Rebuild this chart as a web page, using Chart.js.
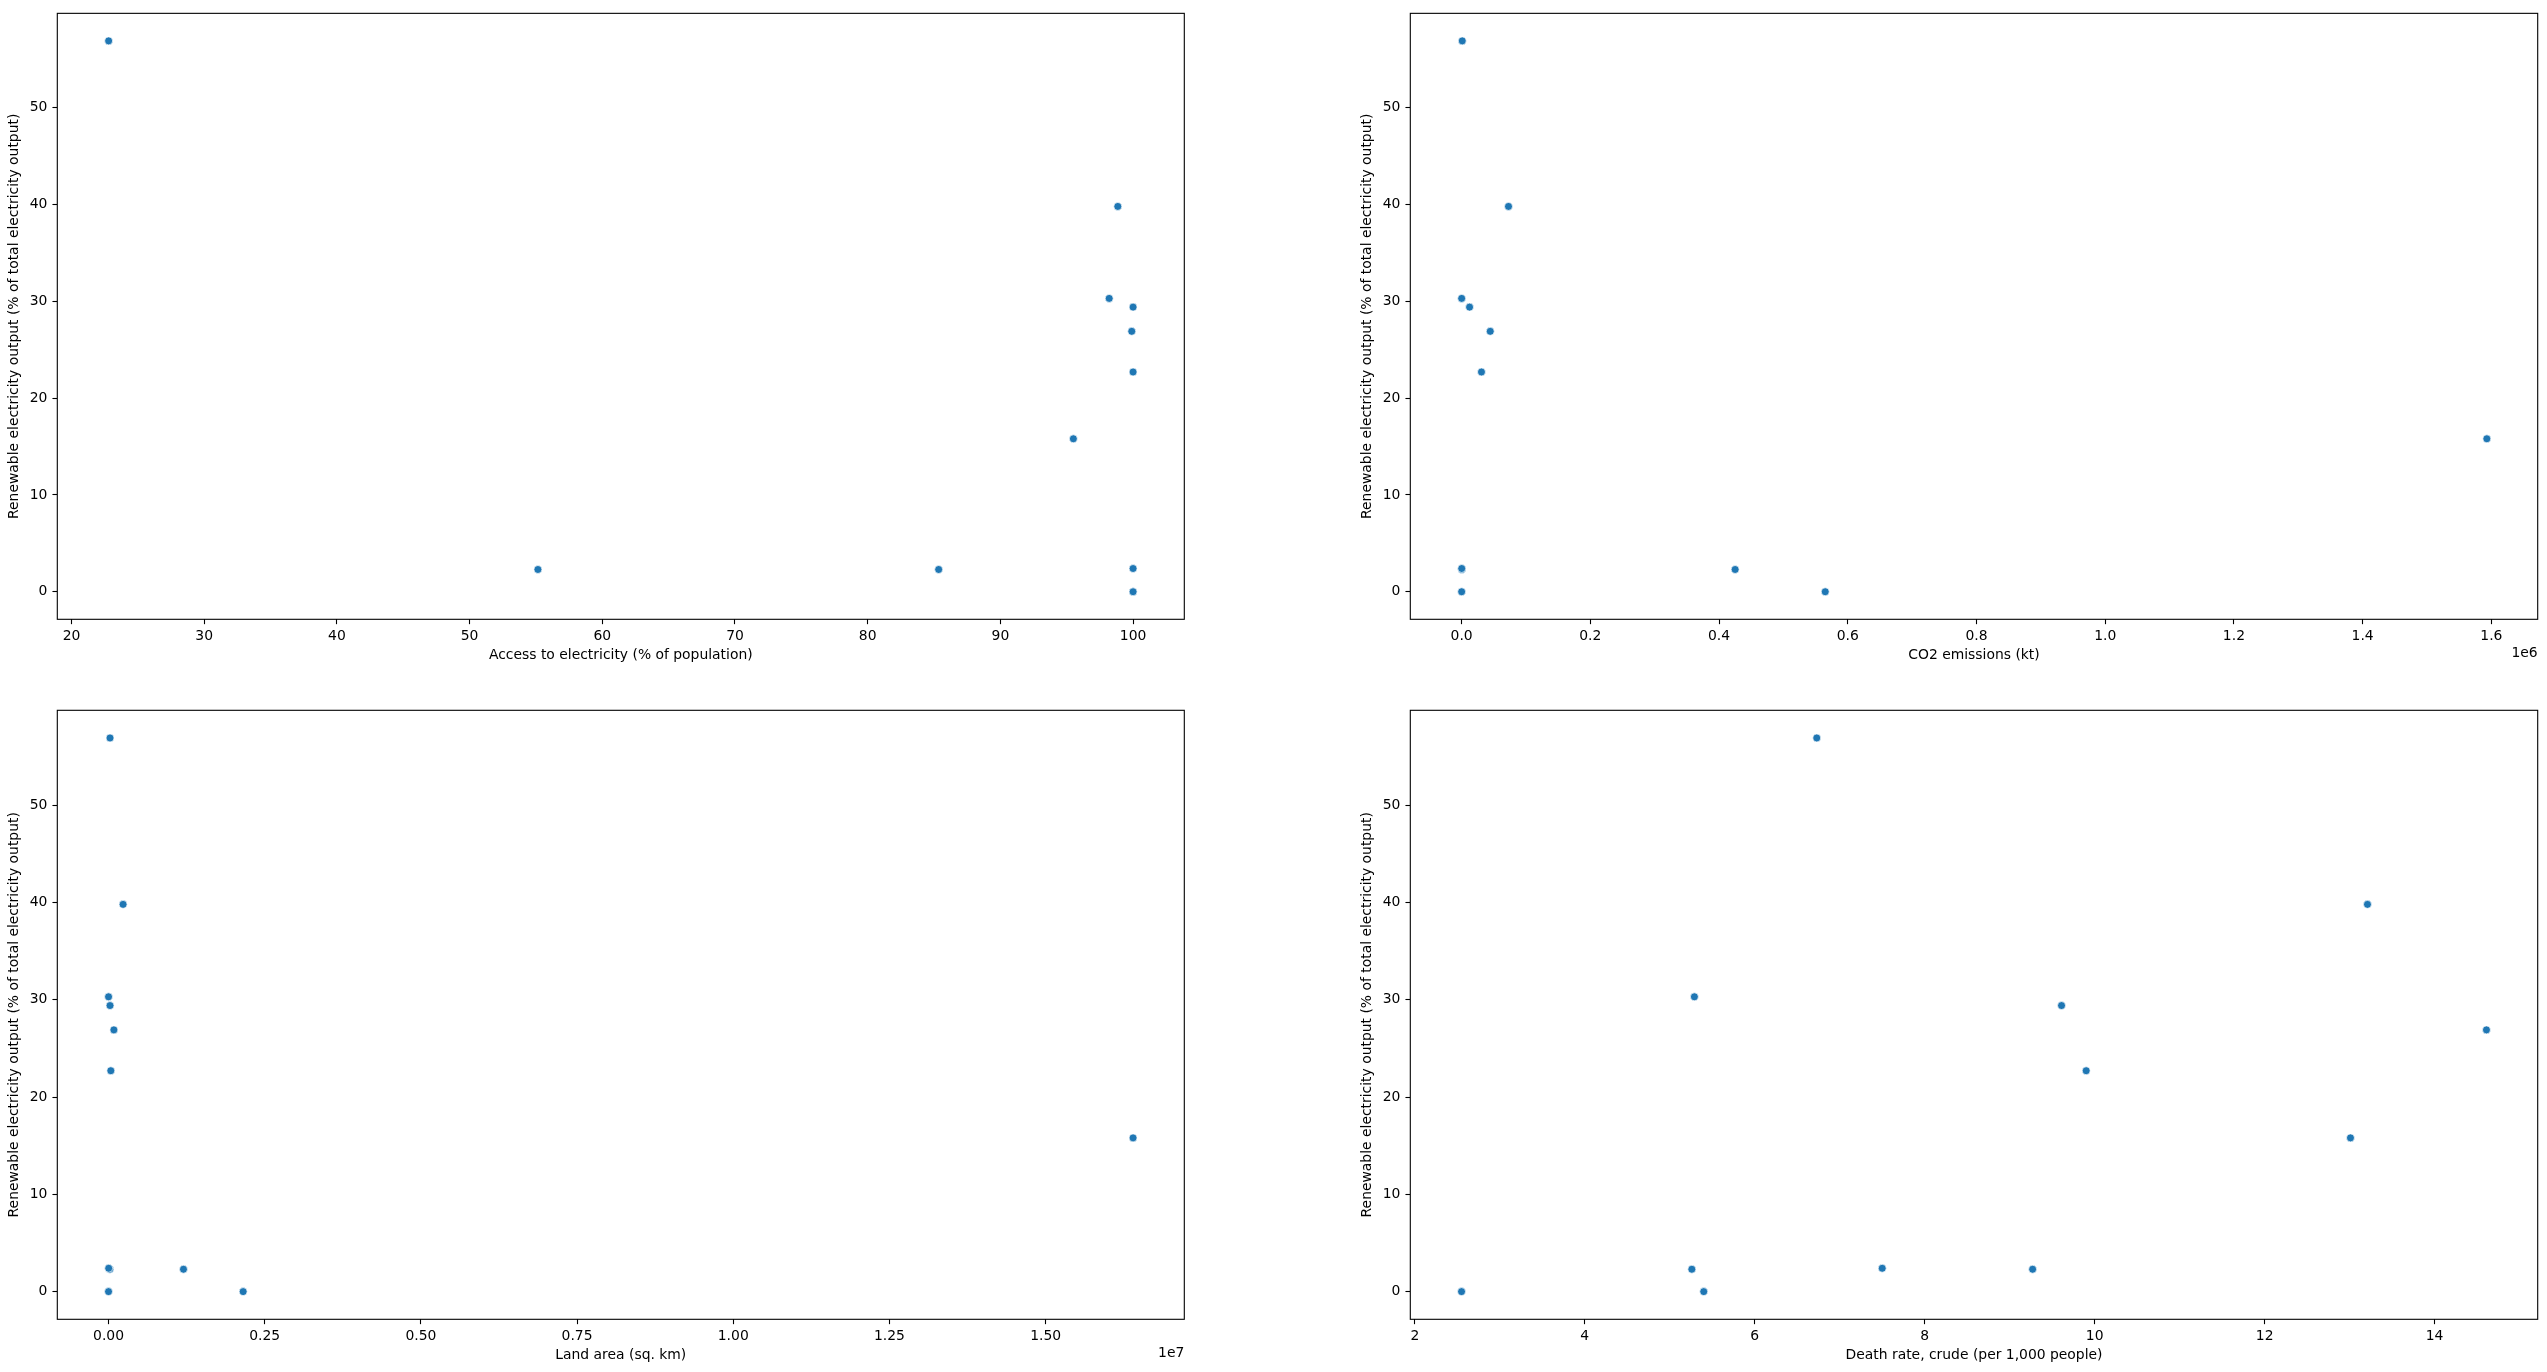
<!DOCTYPE html>
<html><head><meta charset="utf-8">
<script src="https://cdn.jsdelivr.net/npm/chart.js@4.4.1/dist/chart.umd.min.js"></script>
<style>
html,body{margin:0;padding:0;background:#fff;width:2547px;height:1372px;overflow:hidden}
canvas{position:absolute}
</style></head><body>
<canvas id="c1"></canvas><canvas id="c2"></canvas><canvas id="c3"></canvas><canvas id="c4"></canvas>
<script>
// ---- data ----
const renewable = [56.9, 39.8, 30.3, 29.4, 26.9, 22.7, 15.8, 2.3, 2.3, 2.4, 0.0, 0.0];
const accessElectricity = [22.8, 98.85, 98.2, 100, 99.9, 100, 95.5, 55.15, 85.35, 100, 100, 100];
const co2Emissions = [1000, 72900, 100, 12400, 44500, 30900, 1593000, 300, 425000, 200, 100, 565000];
const landArea = [24000, 233000, 500, 24000, 86000, 37000, 16400000, 20000, 1200000, 3000, 100, 2155000];
const deathRate = [6.73, 13.21, 5.29, 9.61, 14.61, 9.90, 13.01, 5.26, 9.27, 7.50, 2.55, 5.40];

const yTicks = [0, 10, 20, 30, 40, 50];
const yTickLabels = ['0', '10', '20', '30', '40', '50'];
const accessTicks = [20, 30, 40, 50, 60, 70, 80, 90, 100];
const accessTickLabels = ['20', '30', '40', '50', '60', '70', '80', '90', '100'];
const co2Ticks = [0, 200000, 400000, 600000, 800000, 1000000, 1200000, 1400000, 1600000];
const co2TickLabels = ['0.0', '0.2', '0.4', '0.6', '0.8', '1.0', '1.2', '1.4', '1.6'];
const landTicks = [0, 2500000, 5000000, 7500000, 10000000, 12500000, 15000000];
const landTickLabels = ['0.00', '0.25', '0.50', '0.75', '1.00', '1.25', '1.50'];
const deathTicks = [2, 4, 6, 8, 10, 12, 14];
const deathTickLabels = ['2', '4', '6', '8', '10', '12', '14'];

const yLabel = 'Renewable electricity output (% of total electricity output)';

// ---- styling ----
const FONT = 'DejaVu Sans';
const FS = 13.9;
const HALF_LH = FS * 1.2 / 2;
Chart.defaults.font.family = FONT;
Chart.defaults.font.size = FS;
Chart.defaults.color = '#000';

const framePlugin = {
  id: 'frame',
  afterDraw(chart, args, opts) {
    const {ctx, chartArea: a} = chart;
    ctx.save();
    ctx.strokeStyle = '#000';
    ctx.lineWidth = 1.1;
    ctx.strokeRect(a.left, a.top, a.right - a.left, a.bottom - a.top);
    if (opts.offsetText) {
      ctx.font = FS + 'px "' + FONT + '"';
      ctx.fillStyle = '#000';
      ctx.textAlign = 'right';
      ctx.textBaseline = 'middle';
      ctx.fillText(opts.offsetText, a.right, a.bottom + 34);
    }
    ctx.restore();
  }
};

function makeChart(id, box, axes, xs, xLabel, xTicks, xTickLabels, xRange, offsetText, xTitlePad, yTitlePad) {
  const cv = document.getElementById(id);
  cv.width = box.cw; cv.height = box.ch;
  cv.style.left = box.cx + 'px'; cv.style.top = box.cy + 'px';
  cv.style.width = box.cw + 'px'; cv.style.height = box.ch + 'px';
  const gridOpts = {display: true, drawOnChartArea: false, drawTicks: true, tickLength: 4.86, tickColor: '#000', tickWidth: 1.1};
  new Chart(cv, {
    type: 'scatter',
    data: {datasets: [{
      data: xs.map((x, i) => ({x: x, y: renewable[i]})),
      backgroundColor: '#1f77b4', borderColor: '#ffffff', borderWidth: 0.7,
      pointRadius: 4.0, pointHoverRadius: 4.0
    }]},
    options: {
      responsive: false, animation: false, devicePixelRatio: 1,
      layout: {padding: {left: 0, top: axes.top - box.cy, right: box.cx + box.cw - axes.right, bottom: 0}},
      plugins: {legend: {display: false}, tooltip: {enabled: false}, frame: {offsetText: offsetText}},
      scales: {
        x: {
          type: 'linear', position: 'bottom', min: xRange[0], max: xRange[1],
          afterBuildTicks: s => { s.ticks = xTicks.map(v => ({value: v})); },
          afterFit: s => { s.height = box.cy + box.ch - axes.bottom; },
          grid: gridOpts, border: {display: false},
          ticks: {autoSkip: false, maxRotation: 0, padding: 4.0, color: '#000',
                  callback: (v, i) => xTickLabels[i]},
          title: {display: true, text: xLabel, color: '#000', font: {size: FS, family: FONT},
                  padding: {top: 0, bottom: xTitlePad}}
        },
        y: {
          type: 'linear', position: 'left', min: -2.845, max: 59.745,
          afterBuildTicks: s => { s.ticks = yTicks.map(v => ({value: v})); },
          afterFit: s => { s.width = axes.left - box.cx; },
          grid: gridOpts, border: {display: false},
          ticks: {autoSkip: false, padding: 5.0, color: '#000',
                  callback: (v, i) => yTickLabels[i]},
          title: {display: true, text: yLabel, color: '#000', font: {size: FS, family: FONT},
                  padding: {top: yTitlePad, bottom: 0}}
        }
      }
    },
    plugins: [framePlugin]
  });
}

const leftCol = {cx: 0, cw: 1240, left: 57.3, right: 1184.3};
const rightCol = {cx: 1250, cw: 1297, left: 1410.3, right: 2537.7};
const topRow = {cy: 0, ch: 690, top: 10.3, bottom: 619.3};
const botRow = {cy: 690, ch: 682, top: 710.3, bottom: 1319.3};

function boxOf(c, r) { return {cx: c.cx, cw: c.cw, cy: r.cy, ch: r.ch}; }
function axesOf(c, r) { return {left: c.left, right: c.right, top: r.top, bottom: r.bottom}; }
function yPad(c) { return c.left - 42.6 - c.cx - HALF_LH; }

makeChart('c1', boxOf(leftCol, topRow), axesOf(leftCol, topRow), accessElectricity,
  'Access to electricity (% of population)', accessTicks, accessTickLabels, [18.93, 103.86], null, 690 - 655.5 - HALF_LH, yPad(leftCol));
makeChart('c2', boxOf(rightCol, topRow), axesOf(rightCol, topRow), co2Emissions,
  'CO2 emissions (kt)', co2Ticks, co2TickLabels, [-79700, 1672000], '1e6', 690 - 655.5 - HALF_LH, yPad(rightCol));
makeChart('c3', boxOf(leftCol, botRow), axesOf(leftCol, botRow), landArea,
  'Land area (sq. km)', landTicks, landTickLabels, [-820000, 17220000], '1e7', 682 - 665.5 - HALF_LH, yPad(leftCol));
makeChart('c4', boxOf(rightCol, botRow), axesOf(rightCol, botRow), deathRate,
  'Death rate, crude (per 1,000 people)', deathTicks, deathTickLabels, [1.947, 15.213], null, 682 - 665.5 - HALF_LH, yPad(rightCol));
</script>
</body></html>
